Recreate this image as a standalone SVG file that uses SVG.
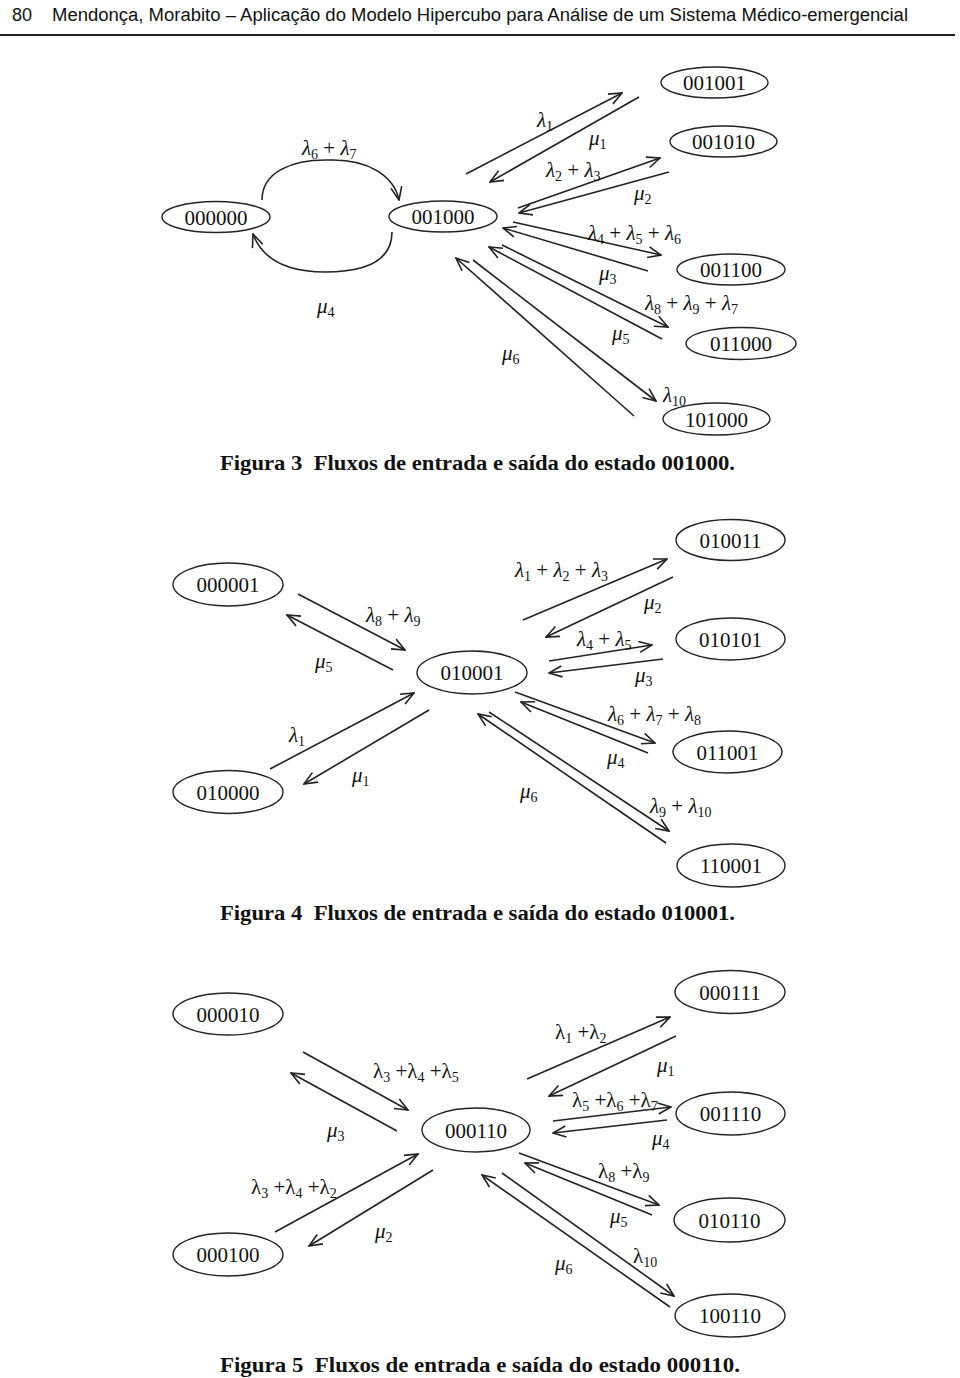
<svg xmlns="http://www.w3.org/2000/svg" width="960" height="1378" viewBox="0 0 960 1378">
<style>
.bg{fill:#fff}
.node ellipse{fill:#fff;stroke:#222;stroke-width:1.4}
.node text{font-family:"Liberation Serif",serif;font-size:21px;text-anchor:middle;fill:#111}
.conn line,.conn path{stroke:#222;stroke-width:1.6;fill:none;marker-end:url(#ah)}
.lab{font-family:"Liberation Serif",serif;font-size:21px;fill:#111;white-space:pre}
.it{font-style:italic}
.sub{font-size:14px}
.cap{font-family:"Liberation Serif",serif;font-size:20px;font-weight:bold;fill:#111;white-space:pre}
.hdr{font-family:"Liberation Sans",sans-serif;font-size:18px;fill:#111}
</style>
<defs>
<marker id="ah" viewBox="0 0 15 13" refX="14" refY="6.5" markerWidth="15" markerHeight="13" markerUnits="userSpaceOnUse" orient="auto">
<path d="M1,1 L14,6.5 L1,12" fill="none" stroke="#222" stroke-width="1.6"/>
</marker>
</defs>
<rect class="bg" width="960" height="1378"/>
<g id="header">
<text class="hdr" x="12" y="21">80</text>
<text class="hdr" x="52" y="21" textLength="856" lengthAdjust="spacingAndGlyphs">Mendonça, Morabito – Aplicação do Modelo Hipercubo para Análise de um Sistema Médico-emergencial</text>
<line x1="0" y1="35" x2="955" y2="35" stroke="#222" stroke-width="2"/>
</g>

<!-- Figure 3 -->
<g id="n000000" class="node"><ellipse cx="216" cy="217" rx="54" ry="15.5"/><text x="216" y="224.5">000000</text></g>
<g id="n001000" class="node"><ellipse cx="443" cy="216.5" rx="54" ry="15.5"/><text x="443" y="224">001000</text></g>
<g id="n001001" class="node"><ellipse cx="714.5" cy="82.5" rx="53.5" ry="15.5"/><text x="714.5" y="90">001001</text></g>
<g id="n001010" class="node"><ellipse cx="723.5" cy="141.5" rx="53.5" ry="15.5"/><text x="723.5" y="149">001010</text></g>
<g id="n001100" class="node"><ellipse cx="731" cy="269.5" rx="54" ry="15.5"/><text x="731" y="277">001100</text></g>
<g id="n011000" class="node"><ellipse cx="741" cy="343.5" rx="55" ry="16"/><text x="741" y="351">011000</text></g>
<g id="n101000" class="node"><ellipse cx="716.5" cy="419" rx="53.5" ry="16"/><text x="716.5" y="426.5">101000</text></g>

<!-- Figure 4 -->
<g id="n000001" class="node"><ellipse cx="228" cy="584.5" rx="55" ry="21.5"/><text x="228" y="592">000001</text></g>
<g id="n010000" class="node"><ellipse cx="228" cy="792" rx="55" ry="21.5"/><text x="228" y="799.5">010000</text></g>
<g id="n010001" class="node"><ellipse cx="472" cy="672.5" rx="55" ry="21.5"/><text x="472" y="680">010001</text></g>
<g id="n010011" class="node"><ellipse cx="730.5" cy="540" rx="54.5" ry="20.5"/><text x="730.5" y="547.5">010011</text></g>
<g id="n010101" class="node"><ellipse cx="730.5" cy="639" rx="54.5" ry="21"/><text x="730.5" y="646.5">010101</text></g>
<g id="n011001" class="node"><ellipse cx="727.5" cy="752" rx="54.5" ry="21"/><text x="727.5" y="759.5">011001</text></g>
<g id="n110001" class="node"><ellipse cx="731" cy="865.5" rx="54" ry="21.5"/><text x="731" y="873">110001</text></g>

<!-- Figure 5 -->
<g id="n000010" class="node"><ellipse cx="228" cy="1014" rx="55" ry="21"/><text x="228" y="1021.5">000010</text></g>
<g id="n000100" class="node"><ellipse cx="228" cy="1254.5" rx="55" ry="21.5"/><text x="228" y="1262">000100</text></g>
<g id="n000110" class="node"><ellipse cx="476" cy="1130" rx="54" ry="22"/><text x="476" y="1137.5">000110</text></g>
<g id="n000111" class="node"><ellipse cx="730" cy="992" rx="55" ry="21.5"/><text x="730" y="999.5">000111</text></g>
<g id="n001110" class="node"><ellipse cx="730.5" cy="1113.5" rx="54.5" ry="21.5"/><text x="730.5" y="1121">001110</text></g>
<g id="n010110" class="node"><ellipse cx="729.5" cy="1220" rx="55.5" ry="22"/><text x="729.5" y="1227.5">010110</text></g>
<g id="n100110" class="node"><ellipse cx="730" cy="1315.5" rx="55" ry="21.5"/><text x="730" y="1323">100110</text></g>

<g id="connectors" class="conn">
<!-- Fig 3 -->
<path d="M262,200 C262,172 292,159 330,160 C368,159 394,176 399,200"/>
<path d="M392,232 C392,258 370,272 325,272 C285,272 262,258 253,234"/>
<line x1="466" y1="174" x2="622" y2="93"/>
<line x1="639" y1="97" x2="490" y2="182"/>
<line x1="518" y1="208" x2="660" y2="158"/>
<line x1="669" y1="172" x2="519" y2="213"/>
<line x1="513" y1="222" x2="661" y2="255"/>
<line x1="648" y1="271" x2="503" y2="228"/>
<line x1="502" y1="245" x2="668" y2="327"/>
<line x1="662" y1="339" x2="489" y2="247"/>
<line x1="473" y1="260" x2="656" y2="401"/>
<line x1="634" y1="416" x2="456" y2="258"/>
<!-- Fig 4 -->
<line x1="298" y1="594" x2="405" y2="650"/>
<line x1="393" y1="670" x2="287" y2="615"/>
<line x1="270" y1="769" x2="414" y2="693"/>
<line x1="429" y1="710" x2="304" y2="784"/>
<line x1="523" y1="620" x2="667" y2="559"/>
<line x1="673" y1="577" x2="546" y2="637"/>
<line x1="549" y1="661" x2="652" y2="645"/>
<line x1="663" y1="659" x2="549" y2="673"/>
<line x1="515" y1="692" x2="655" y2="743"/>
<line x1="648" y1="753" x2="521" y2="702"/>
<line x1="489" y1="712" x2="669" y2="831"/>
<line x1="666" y1="843" x2="478" y2="714"/>
<!-- Fig 5 -->
<line x1="303" y1="1052" x2="408" y2="1110"/>
<line x1="397" y1="1131" x2="291" y2="1073"/>
<line x1="275" y1="1232" x2="418" y2="1154"/>
<line x1="433" y1="1170" x2="309" y2="1246"/>
<line x1="527" y1="1079" x2="670" y2="1017"/>
<line x1="676" y1="1036" x2="549" y2="1096"/>
<line x1="553" y1="1121" x2="671" y2="1107"/>
<line x1="667" y1="1120" x2="553" y2="1133"/>
<line x1="519" y1="1153" x2="659" y2="1205"/>
<line x1="652" y1="1215" x2="525" y2="1163"/>
<line x1="502" y1="1173" x2="674" y2="1296"/>
<line x1="670" y1="1307" x2="482" y2="1175"/>
</g>

<g id="labels">
<!-- Fig 3 -->
<text class="lab" x="302" y="155"><tspan class="it">λ</tspan><tspan class="sub" dy="4">6</tspan><tspan dy="-4"> + </tspan><tspan class="it">λ</tspan><tspan class="sub" dy="4">7</tspan></text>
<text class="lab" x="317" y="313"><tspan class="it">μ</tspan><tspan class="sub" dy="4">4</tspan></text>
<text class="lab" x="537" y="127"><tspan class="it">λ</tspan><tspan class="sub" dy="4">1</tspan></text>
<text class="lab" x="589" y="145"><tspan class="it">μ</tspan><tspan class="sub" dy="4">1</tspan></text>
<text class="lab" x="546" y="177"><tspan class="it">λ</tspan><tspan class="sub" dy="4">2</tspan><tspan dy="-4"> + </tspan><tspan class="it">λ</tspan><tspan class="sub" dy="4">3</tspan></text>
<text class="lab" x="634" y="200"><tspan class="it">μ</tspan><tspan class="sub" dy="4">2</tspan></text>
<text class="lab" x="588" y="240"><tspan class="it">λ</tspan><tspan class="sub" dy="4">4</tspan><tspan dy="-4"> + </tspan><tspan class="it">λ</tspan><tspan class="sub" dy="4">5</tspan><tspan dy="-4"> + </tspan><tspan class="it">λ</tspan><tspan class="sub" dy="4">6</tspan></text>
<text class="lab" x="599" y="280"><tspan class="it">μ</tspan><tspan class="sub" dy="4">3</tspan></text>
<text class="lab" x="645" y="310"><tspan class="it">λ</tspan><tspan class="sub" dy="4">8</tspan><tspan dy="-4"> + </tspan><tspan class="it">λ</tspan><tspan class="sub" dy="4">9</tspan><tspan dy="-4"> + </tspan><tspan class="it">λ</tspan><tspan class="sub" dy="4">7</tspan></text>
<text class="lab" x="612" y="340"><tspan class="it">μ</tspan><tspan class="sub" dy="4">5</tspan></text>
<text class="lab" x="502" y="360"><tspan class="it">μ</tspan><tspan class="sub" dy="4">6</tspan></text>
<text class="lab" x="663" y="402"><tspan class="it">λ</tspan><tspan class="sub" dy="4">10</tspan></text>
<!-- Fig 4 -->
<text class="lab" x="366" y="622"><tspan class="it">λ</tspan><tspan class="sub" dy="4">8</tspan><tspan dy="-4"> + </tspan><tspan class="it">λ</tspan><tspan class="sub" dy="4">9</tspan></text>
<text class="lab" x="315" y="668"><tspan class="it">μ</tspan><tspan class="sub" dy="4">5</tspan></text>
<text class="lab" x="289" y="742"><tspan class="it">λ</tspan><tspan class="sub" dy="4">1</tspan></text>
<text class="lab" x="352" y="782"><tspan class="it">μ</tspan><tspan class="sub" dy="4">1</tspan></text>
<text class="lab" x="515" y="577"><tspan class="it">λ</tspan><tspan class="sub" dy="4">1</tspan><tspan dy="-4"> + </tspan><tspan class="it">λ</tspan><tspan class="sub" dy="4">2</tspan><tspan dy="-4"> + </tspan><tspan class="it">λ</tspan><tspan class="sub" dy="4">3</tspan></text>
<text class="lab" x="644" y="609"><tspan class="it">μ</tspan><tspan class="sub" dy="4">2</tspan></text>
<text class="lab" x="577" y="646"><tspan class="it">λ</tspan><tspan class="sub" dy="4">4</tspan><tspan dy="-4"> + </tspan><tspan class="it">λ</tspan><tspan class="sub" dy="4">5</tspan></text>
<text class="lab" x="635" y="682"><tspan class="it">μ</tspan><tspan class="sub" dy="4">3</tspan></text>
<text class="lab" x="608" y="721"><tspan class="it">λ</tspan><tspan class="sub" dy="4">6</tspan><tspan dy="-4"> + </tspan><tspan class="it">λ</tspan><tspan class="sub" dy="4">7</tspan><tspan dy="-4"> + </tspan><tspan class="it">λ</tspan><tspan class="sub" dy="4">8</tspan></text>
<text class="lab" x="607" y="764"><tspan class="it">μ</tspan><tspan class="sub" dy="4">4</tspan></text>
<text class="lab" x="520" y="798"><tspan class="it">μ</tspan><tspan class="sub" dy="4">6</tspan></text>
<text class="lab" x="650" y="813"><tspan class="it">λ</tspan><tspan class="sub" dy="4">9</tspan><tspan dy="-4"> + </tspan><tspan class="it">λ</tspan><tspan class="sub" dy="4">10</tspan></text>
<!-- Fig 5 -->
<text class="lab" x="373" y="1078">λ<tspan class="sub" dy="4">3</tspan><tspan dy="-4"> +λ</tspan><tspan class="sub" dy="4">4</tspan><tspan dy="-4"> +λ</tspan><tspan class="sub" dy="4">5</tspan></text>
<text class="lab" x="327" y="1137"><tspan class="it">μ</tspan><tspan class="sub" dy="4">3</tspan></text>
<text class="lab" x="251" y="1194">λ<tspan class="sub" dy="4">3</tspan><tspan dy="-4"> +λ</tspan><tspan class="sub" dy="4">4</tspan><tspan dy="-4"> +λ</tspan><tspan class="sub" dy="4">2</tspan></text>
<text class="lab" x="375" y="1238"><tspan class="it">μ</tspan><tspan class="sub" dy="4">2</tspan></text>
<text class="lab" x="555" y="1039">λ<tspan class="sub" dy="4">1</tspan><tspan dy="-4"> +λ</tspan><tspan class="sub" dy="4">2</tspan></text>
<text class="lab" x="657" y="1072"><tspan class="it">μ</tspan><tspan class="sub" dy="4">1</tspan></text>
<text class="lab" x="572" y="1107">λ<tspan class="sub" dy="4">5</tspan><tspan dy="-4"> +λ</tspan><tspan class="sub" dy="4">6</tspan><tspan dy="-4"> +λ</tspan><tspan class="sub" dy="4">7</tspan></text>
<text class="lab" x="652" y="1145"><tspan class="it">μ</tspan><tspan class="sub" dy="4">4</tspan></text>
<text class="lab" x="598" y="1178">λ<tspan class="sub" dy="4">8</tspan><tspan dy="-4"> +λ</tspan><tspan class="sub" dy="4">9</tspan></text>
<text class="lab" x="610" y="1223"><tspan class="it">μ</tspan><tspan class="sub" dy="4">5</tspan></text>
<text class="lab" x="633" y="1263">λ<tspan class="sub" dy="4">10</tspan></text>
<text class="lab" x="555" y="1270"><tspan class="it">μ</tspan><tspan class="sub" dy="4">6</tspan></text>
</g>

<g id="captions">
<text class="cap" x="220" y="470" textLength="515" lengthAdjust="spacingAndGlyphs">Figura 3  Fluxos de entrada e saída do estado 001000.</text>
<text class="cap" x="220" y="920" textLength="515" lengthAdjust="spacingAndGlyphs">Figura 4  Fluxos de entrada e saída do estado 010001.</text>
<text class="cap" x="220" y="1372" textLength="520" lengthAdjust="spacingAndGlyphs">Figura 5  Fluxos de entrada e saída do estado 000110.</text>
</g>
</svg>
